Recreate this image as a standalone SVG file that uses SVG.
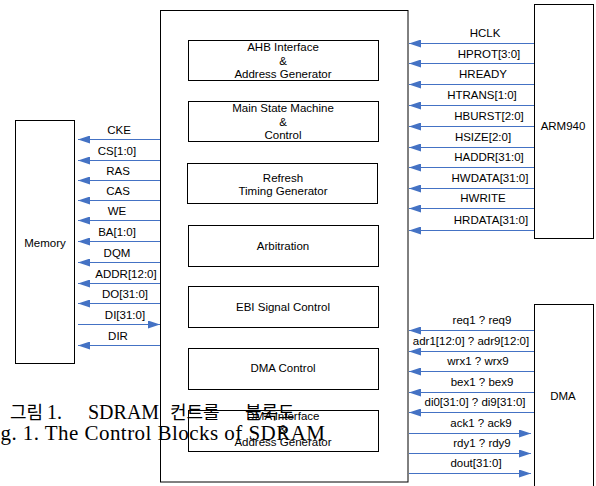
<svg xmlns="http://www.w3.org/2000/svg" width="596" height="486" viewBox="0 0 596 486">
  <style>
    .box { fill: #ffffff; stroke: #000000; stroke-width: 1; }
    .blk { fill: none; stroke: #000000; stroke-width: 1; }
    .lbl { font-family: "Liberation Sans", Arial, sans-serif; font-size: 11.5px; fill: #000000; text-anchor: middle; }
    .sig { stroke: #4472C4; stroke-width: 1; fill: none; marker-end: url(#ah); }
    .cap { font-family: "Liberation Serif", "Noto Sans CJK KR", serif; fill: #000000; }
  </style>
  <defs>
    <marker id="ah" markerUnits="userSpaceOnUse" markerWidth="12" markerHeight="8" refX="12" refY="4" orient="auto">
      <path d="M0,0 L12,4 L0,8 z" fill="#4472C4"/>
    </marker>
  </defs>

  <rect width="596" height="486" fill="#ffffff"/>

  <!-- SDRAM controller with its internal blocks -->
  <g id="controller">
    <rect class="box" x="160.5" y="10.5" width="247.5" height="471.5"/>
  </g>
  <g id="ahb-interface">
    <rect class="blk" x="188.5" y="40.5" width="190" height="40"/>
    <text class="lbl" x="283" y="51">AHB Interface</text>
    <text class="lbl" x="283" y="65">&amp;</text>
    <text class="lbl" x="283" y="78">Address Generator</text>
  </g>
  <g id="main-state-machine">
    <rect class="blk" x="188.5" y="101.5" width="190" height="40"/>
    <text class="lbl" x="283" y="112">Main State Machine</text>
    <text class="lbl" x="283" y="126">&amp;</text>
    <text class="lbl" x="283" y="139">Control</text>
  </g>
  <g id="refresh-timing">
    <rect class="blk" x="187.5" y="163.5" width="190" height="40"/>
    <text class="lbl" x="283" y="181.5">Refresh</text>
    <text class="lbl" x="283" y="194.5">Timing Generator</text>
  </g>
  <g id="arbitration">
    <rect class="blk" x="188.5" y="225.5" width="190" height="41"/>
    <text class="lbl" x="283" y="250">Arbitration</text>
  </g>
  <g id="ebi-signal-control">
    <rect class="blk" x="188.5" y="286.5" width="190" height="41"/>
    <text class="lbl" x="283" y="310.5">EBI Signal Control</text>
  </g>
  <g id="dma-control">
    <rect class="blk" x="188.5" y="348.5" width="190" height="41"/>
    <text class="lbl" x="283" y="372">DMA Control</text>
  </g>
  <g id="dma-interface">
    <rect class="blk" x="188.5" y="410.5" width="190" height="41"/>
    <text class="lbl" x="283" y="420">DMA Interface</text>
    <text class="lbl" x="283" y="433">&amp;</text>
    <text class="lbl" x="283" y="446">Address Generator</text>
  </g>

  <!-- external devices -->
  <g id="memory">
    <rect class="box" x="15.5" y="120.5" width="59" height="243"/>
    <text class="lbl" x="45" y="247">Memory</text>
  </g>
  <g id="arm940">
    <rect class="box" x="534.5" y="4.5" width="59" height="234"/>
    <text class="lbl" x="563" y="130">ARM940</text>
  </g>
  <g id="dma">
    <rect class="box" x="534.5" y="304.5" width="59" height="190"/>
    <text class="lbl" x="563" y="400">DMA</text>
  </g>

  <!-- signal connectors -->
  <g id="connectors">
    <!-- memory side -->
    <line class="sig" x1="160" y1="139.5" x2="78" y2="139.5"/>
    <line class="sig" x1="160" y1="160.5" x2="78" y2="160.5"/>
    <line class="sig" x1="160" y1="180.5" x2="78" y2="180.5"/>
    <line class="sig" x1="160" y1="200.5" x2="78" y2="200.5"/>
    <line class="sig" x1="160" y1="220.5" x2="78" y2="220.5"/>
    <line class="sig" x1="160" y1="241.5" x2="78" y2="241.5"/>
    <line class="sig" x1="160" y1="262.5" x2="78" y2="262.5"/>
    <line class="sig" x1="160" y1="283.5" x2="78" y2="283.5"/>
    <line class="sig" x1="160" y1="303.5" x2="78" y2="303.5"/>
    <line class="sig" x1="78" y1="324.5" x2="160" y2="324.5"/>
    <line class="sig" x1="160" y1="345.5" x2="78" y2="345.5"/>
    <!-- ARM940 bus side -->
    <line class="sig" x1="534" y1="43.5" x2="409" y2="43.5"/>
    <line class="sig" x1="534" y1="63.5" x2="409" y2="63.5"/>
    <line class="sig" x1="534" y1="84.5" x2="409" y2="84.5"/>
    <line class="sig" x1="534" y1="105.5" x2="409" y2="105.5"/>
    <line class="sig" x1="534" y1="126.5" x2="409" y2="126.5"/>
    <line class="sig" x1="534" y1="147.5" x2="409" y2="147.5"/>
    <line class="sig" x1="534" y1="167.5" x2="409" y2="167.5"/>
    <line class="sig" x1="534" y1="188.5" x2="409" y2="188.5"/>
    <line class="sig" x1="534" y1="208.5" x2="409" y2="208.5"/>
    <line class="sig" x1="534" y1="230.5" x2="409" y2="230.5"/>
    <!-- DMA side -->
    <line class="sig" x1="534" y1="330.5" x2="409" y2="330.5"/>
    <line class="sig" x1="534" y1="351.5" x2="409" y2="351.5"/>
    <line class="sig" x1="534" y1="371.5" x2="409" y2="371.5"/>
    <line class="sig" x1="534" y1="392.5" x2="409" y2="392.5"/>
    <line class="sig" x1="534" y1="412.5" x2="409" y2="412.5"/>
    <line class="sig" x1="409" y1="433.5" x2="531" y2="433.5"/>
    <line class="sig" x1="409" y1="453.5" x2="531" y2="453.5"/>
    <line class="sig" x1="409" y1="473.5" x2="531" y2="473.5"/>
  </g>

  <!-- signal names -->
  <g id="signal-labels">
    <text class="lbl" x="119" y="134">CKE</text>
    <text class="lbl" x="117" y="155">CS[1:0]</text>
    <text class="lbl" x="118" y="175">RAS</text>
    <text class="lbl" x="118" y="195">CAS</text>
    <text class="lbl" x="117" y="215">WE</text>
    <text class="lbl" x="117" y="236">BA[1:0]</text>
    <text class="lbl" x="117" y="257">DQM</text>
    <text class="lbl" x="126" y="278">ADDR[12:0]</text>
    <text class="lbl" x="125" y="298">DO[31:0]</text>
    <text class="lbl" x="125" y="319">DI[31:0]</text>
    <text class="lbl" x="118" y="340">DIR</text>

    <text class="lbl" x="485" y="37">HCLK</text>
    <text class="lbl" x="489" y="58">HPROT[3:0]</text>
    <text class="lbl" x="483" y="78">HREADY</text>
    <text class="lbl" x="482" y="99">HTRANS[1:0]</text>
    <text class="lbl" x="489" y="120">HBURST[2:0]</text>
    <text class="lbl" x="483" y="141">HSIZE[2:0]</text>
    <text class="lbl" x="489" y="161">HADDR[31:0]</text>
    <text class="lbl" x="490" y="182">HWDATA[31:0]</text>
    <text class="lbl" x="483" y="202">HWRITE</text>
    <text class="lbl" x="491" y="224">HRDATA[31:0]</text>

    <text class="lbl" x="482" y="324">req1 ? req9</text>
    <text class="lbl" x="471" y="345">adr1[12:0] ? adr9[12:0]</text>
    <text class="lbl" x="478" y="365">wrx1 ? wrx9</text>
    <text class="lbl" x="482" y="386">bex1 ? bex9</text>
    <text class="lbl" x="475" y="406">di0[31:0] ? di9[31:0]</text>
    <text class="lbl" x="481" y="427">ack1 ? ack9</text>
    <text class="lbl" x="482" y="447">rdy1 ? rdy9</text>
    <text class="lbl" x="476" y="467">dout[31:0]</text>
  </g>

  <!-- figure caption -->
  <g id="caption">
    <text class="cap" y="419" font-size="20"><tspan x="10" font-size="18">그림</tspan><tspan x="47">1.</tspan><tspan x="88">SDRAM</tspan><tspan x="170" font-size="18">컨트롤</tspan><tspan x="245" font-size="18">블록도</tspan></text>
    <text class="cap" x="-18" y="440" font-size="21" textLength="343" lengthAdjust="spacing">Fig. 1. The Control Blocks of SDRAM</text>
  </g>
</svg>
